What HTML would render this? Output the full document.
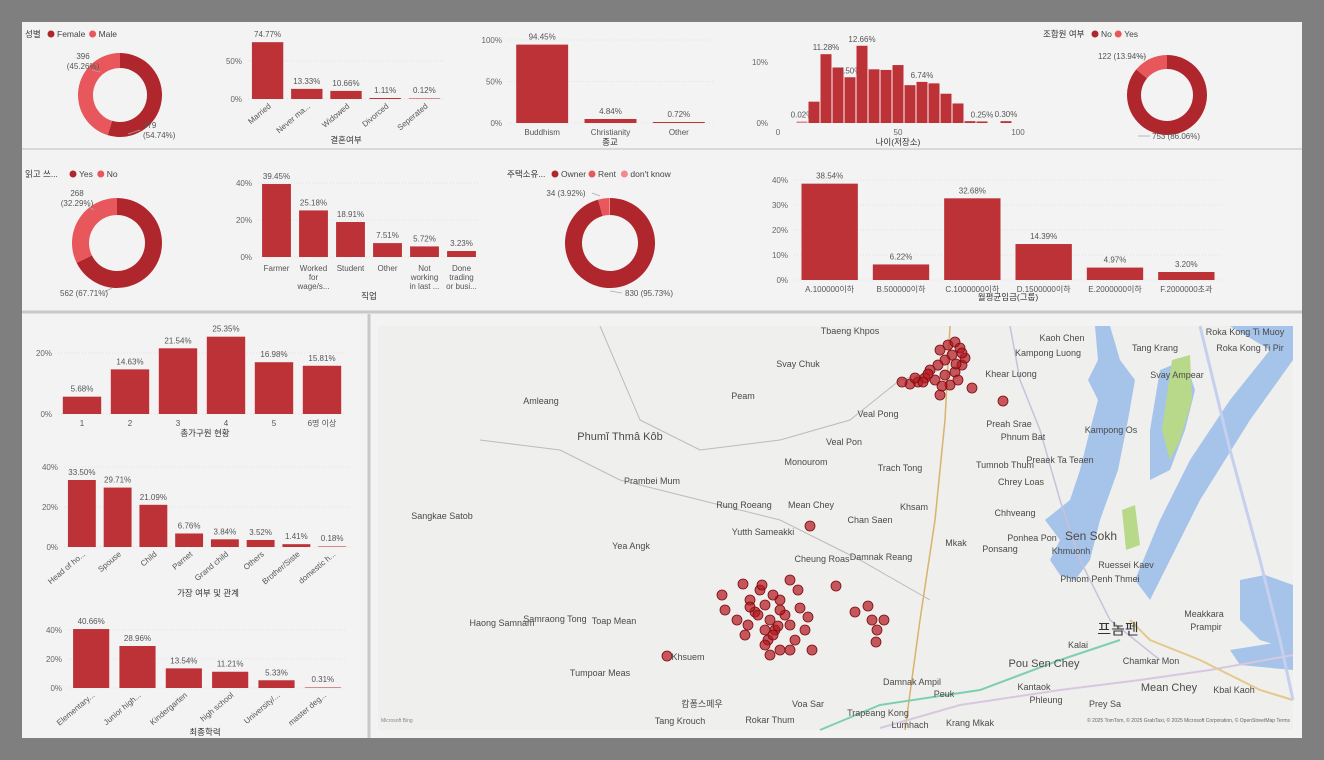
<!DOCTYPE html>
<html><head><meta charset="utf-8">
<style>
html,body{margin:0;padding:0;background:#7f7f7f;}
svg{display:block;font-family:"Liberation Sans","Noto Sans CJK KR",sans-serif;}
</style></head>
<body>
<svg id="dash" width="1324" height="760" viewBox="0 0 1324 760">
<rect x="0" y="0" width="1324" height="760" fill="#7f7f7f"/>
<rect x="22" y="22" width="1280" height="716" fill="#f3f3f3"/>
<line x1="22" y1="149" x2="1302" y2="149" stroke="#d8d8d8" stroke-width="2"/>
<line x1="22" y1="312" x2="1302" y2="312" stroke="#c8c8c8" stroke-width="3"/>
<line x1="369" y1="314" x2="369" y2="738" stroke="#c8c8c8" stroke-width="3"/>
<g id="map"></g>
<g id="charts"></g>
</svg>
<script>
// ---------- DATA ----------
const genderCats=["Female","Male"];
const genderVals=[479,396];
const maritalCats=["Married","Never ma...","Widowed","Divorced","Seperated"];
const maritalVals=[74.77,13.33,10.66,1.11,0.12];
const religionCats=["Buddhism","Christianity","Other"];
const religionVals=[94.45,4.84,0.72];
const ageBins=[10,15,20,25,30,35,40,45,50,55,60,65,70,75,80,85,95];
const ageVals=[0.02,3.5,11.28,9.1,7.5,12.66,8.8,8.7,9.5,6.2,6.74,6.5,4.8,3.2,0.3,0.25,0.30];
const ageShown=["0.02%","","11.28%","","7.50%","12.66%","","","","","6.74%","","","","","0.25%","0.30%"];
const unionCats=["No","Yes"];
const unionVals=[753,122];
const literacyCats=["Yes","No"];
const literacyVals=[562,268];
const jobCats=[["Farmer"],["Worked","for","wage/s..."],["Student"],["Other"],["Not","working","in last ..."],["Done","trading","or busi..."]];
const jobVals=[39.45,25.18,18.91,7.51,5.72,3.23];
const houseCats=["Owner","Rent","don't know"];
const houseVals=[830,34,3];
const incomeCats=["A.100000이하","B.500000이하","C.1000000이하","D.1500000이하","E.2000000이하","F.2000000초과"];
const incomeVals=[38.54,6.22,32.68,14.39,4.97,3.20];
const hhCats=["1","2","3","4","5","6명 이상"];
const hhVals=[5.68,14.63,21.54,25.35,16.98,15.81];
const relCats=["Head of ho...","Spouse","Child","Parnet","Grand child","Others","Brother/Siste","domestic h..."];
const relVals=[33.50,29.71,21.09,6.76,3.84,3.52,1.41,0.18];
const eduCats=["Elementary...","Junior high...","Kindergarten","high school","University/...","master deg..."];
const eduVals=[40.66,28.96,13.54,11.21,5.33,0.31];
// map points: longitude / latitude (projected map units)
const ptLon=[104.562,104.570,104.577,104.582,104.574,104.567,104.560,104.552,104.547,104.540,104.532,104.524,104.557,104.567,104.577,104.584,104.587,104.580,104.562,104.594,104.625,104.550,104.537,104.572,104.584,104.578,104.564,104.545,
104.344,104.347,104.359,104.372,104.377,104.382,104.387,104.392,104.397,104.390,104.402,104.407,104.412,104.417,104.422,104.427,104.434,104.412,104.392,104.387,104.370,104.384,104.395,104.420,104.458,104.477,104.490,104.494,104.499,104.506,104.498,104.289,104.432,104.402,104.387,104.367,104.412,104.430,104.402,104.380,104.395,104.372,104.365,104.400];
const ptLat=[11.976,11.981,11.984,11.978,11.971,11.966,11.961,11.956,11.948,11.944,11.942,11.944,11.946,11.951,11.954,11.961,11.968,11.946,11.931,11.938,11.925,11.952,11.948,11.941,11.973,11.962,11.940,11.944,
11.731,11.716,11.706,11.726,11.714,11.736,11.721,11.706,11.696,11.686,11.726,11.711,11.701,11.686,11.718,11.696,11.676,11.676,11.671,11.696,11.701,11.741,11.731,11.736,11.740,11.714,11.720,11.706,11.696,11.706,11.684,11.670,11.800,11.676,11.681,11.691,11.746,11.709,11.716,11.711,11.691,11.719,11.742,11.700];

// ---------- helpers ----------
const NS="http://www.w3.org/2000/svg";
const charts=document.getElementById('charts');
const mapG=document.getElementById('map');
const RED="#bd3237", DARK="#b0262d", LIGHT="#e8575b";
function mk(tag,attrs,parent){const e=document.createElementNS(NS,tag);for(const k in attrs)e.setAttribute(k,attrs[k]);(parent||charts).appendChild(e);return e;}
function txt(x,y,s,size,parent,anchor,fill,extra){const t=mk('text',Object.assign({x:x,y:y,'font-size':size||9,fill:fill||'#555','text-anchor':anchor||'middle'},extra||{}),parent);t.textContent=s;return t;}

function barChart(o,cats,vals,shown){
  const g=mk('g',{});
  
  
  const ys=v=>o.y0-v/o.vmax*(o.y0-o.ytop);
  o.ticks.forEach(tv=>{
    const gl=mk('line',{x1:o.x0,x2:o.x1,y1:ys(tv),y2:ys(tv),stroke:'#e2e2e2','stroke-dasharray':'1,2'},g);
    
    
    const tl=txt(o.x0-6,ys(tv)+3,tv+'%',8,g,'end','#666');
    
    
  });
  const step=(o.x1-o.x0)/cats.length, bw=step*o.bw;
  cats.forEach((c,i)=>{
    const cx=o.x0+step*(i+0.5), v=vals[i], top=ys(v);
    const h=Math.max(o.y0-top,1);
    const r=mk('rect',{x:cx-bw/2,y:o.y0-h,width:bw,height:h,fill:v<0.5?'#d98a8c':RED},g);
    
    
    const lbl=shown?shown[i]:v.toFixed(2)+'%';
    if(lbl){const vl=txt(cx,o.y0-h-5,lbl,8,g,'middle','#555');
      
      }
    let cl;
    if(o.rot){cl=txt(cx+4,o.y0+8,c,8,g,'end','#555',{transform:'rotate(-40 '+(cx+4)+' '+(o.y0+8)+')'});}
    else if(Array.isArray(c)){cl=mk('text',{x:cx,y:o.y0+14,'font-size':8,fill:'#555','text-anchor':'middle'},g);
      c.forEach((ln,k)=>{const ts=mk('tspan',{x:cx,dy:k?9:0},cl);ts.textContent=ln;});}
    else cl=txt(cx,o.y0+12,c,8,g,'middle','#555');
    
    
  });
  const at=txt(o.tx,o.ty,o.title,8.5,g,'middle','#333');
  
  
}

function donut(o,cats,vals,colors){
  const g=mk('g',{});
  
  
  const tot=vals.reduce((a,b)=>a+b,0);
  let a=-Math.PI/2;
  vals.forEach((v,i)=>{
    const a2=a+v/tot*2*Math.PI, lg=(a2-a)>Math.PI?1:0;
    const R=o.r,r=o.ri,cx=o.cx,cy=o.cy;
    const d=`M${cx+R*Math.cos(a)} ${cy+R*Math.sin(a)} A${R} ${R} 0 ${lg} 1 ${cx+R*Math.cos(a2)} ${cy+R*Math.sin(a2)} L${cx+r*Math.cos(a2)} ${cy+r*Math.sin(a2)} A${r} ${r} 0 ${lg} 0 ${cx+r*Math.cos(a)} ${cy+r*Math.sin(a)}Z`;
    const p=mk('path',{d:d,fill:colors[i]},g);
    
    
    a=a2;
  });
  // legend
  let lx=o.lx;
  const lt=txt(lx,o.ly,o.title,8.5,g,'start','#333');
  
  
  lx+=o.tw;
  cats.forEach((c,i)=>{
    const dot=mk('circle',{cx:lx+4,cy:o.ly-3,r:3.5,fill:colors[i]},g);
    
    
    const le=txt(lx+10,o.ly,c,8.5,g,'start','#444');
    
    
    lx+=14+c.length*4.6;
  });
  o.labels.forEach((L,i)=>{
    const ln=mk('polyline',{points:L.line,fill:'none',stroke:'#aaa','stroke-width':0.8},g);
    
    
    L.text.forEach((s,k)=>{const dl=txt(L.x,L.y+k*10,s,8,g,L.anchor||'middle','#555');
      
      });
  });
}
const pct=(v,t)=>(v/t*100).toFixed(2)+'%';
const sum=a=>a.reduce((x,y)=>x+y,0);

// ---------- charts ----------
donut({name:'gender-donut',cx:120,cy:95,r:42,ri:27,lx:25,ly:37,title:'성별',tw:22,
  labels:[{x:83,y:59,text:[''+genderVals[1],'('+pct(genderVals[1],sum(genderVals))+')'],line:'92,70 100,72'},
          {x:143,y:128,anchor:'start',text:[''+genderVals[0],'('+pct(genderVals[0],sum(genderVals))+')'],line:'128,134 140,130'}]},
  genderCats,genderVals,[DARK,LIGHT]);
barChart({name:'marital-status-chart',x0:248,x1:444,y0:99,ytop:61,vmax:50,ticks:[0,50],bw:0.8,rot:true,tx:346,ty:143,title:'결혼여부'},maritalCats,maritalVals);
barChart({name:'religion-chart',x0:508,x1:713,y0:123,ytop:40,vmax:100,ticks:[0,50,100],bw:0.76,tx:610,ty:145,title:'종교'},religionCats,religionVals);

// age histogram
(function(){
  const g=mk('g',{});
  
  
  const xs=v=>778+v/100*240, ys=v=>123-v/10*61;
  [0,10].forEach(tv=>{const t=txt(768,ys(tv)+3,tv+'%',8,g,'end','#666');
    
    });
  [0,50,100].forEach(tv=>{const t=txt(xs(tv),135,''+tv,8,g,'middle','#666');
    
    });
  ageBins.forEach((b,i)=>{
    const v=ageVals[i],h=Math.max(123-ys(v),1.5);
    const r=mk('rect',{x:xs(b)-5.5,y:123-h,width:11,height:h,fill:v<0.1?'#d98a8c':RED},g);
    
    
    if(ageShown[i]){const t=txt(xs(b),123-h-4,ageShown[i],8,g,'middle','#555');
      
      }
  });
  const t=txt(898,145,'나이(저장소)',8.5,g,'middle','#333');
  
  
})();
donut({name:'union-membership-donut',cx:1167,cy:95,r:40,ri:26,lx:1043,ly:37,title:'조합원 여부',tw:48,
  labels:[{x:1122,y:59,text:[unionVals[1]+' ('+pct(unionVals[1],sum(unionVals))+')'],line:'1138,56 1146,57'},
          {x:1152,y:139,anchor:'start',text:[unionVals[0]+' ('+pct(unionVals[0],sum(unionVals))+')'],line:'1138,136 1150,136'}]},
  unionCats,unionVals,[DARK,LIGHT]);

donut({name:'literacy-donut',cx:117,cy:243,r:45,ri:28,lx:25,ly:177,title:'읽고 쓰...',tw:44,
  labels:[{x:77,y:196,text:[''+literacyVals[1],'('+pct(literacyVals[1],sum(literacyVals))+')'],line:'88,206 94,210'},
          {x:60,y:296,anchor:'start',text:[literacyVals[0]+' ('+pct(literacyVals[0],sum(literacyVals))+')'],line:'104,292 112,288'}]},
  literacyCats,literacyVals,[DARK,LIGHT]);
barChart({name:'occupation-chart',x0:258,x1:480,y0:257,ytop:183,vmax:40,ticks:[0,20,40],bw:0.78,tx:369,ty:299,title:'직업'},jobCats,jobVals);
donut({name:'housing-ownership-donut',cx:610,cy:243,r:45,ri:28,lx:507,ly:177,title:'주택소유...',tw:44,
  labels:[{x:566,y:196,text:[houseVals[1]+' ('+pct(houseVals[1],sum(houseVals))+')'],line:'592,193 600,196'},
          {x:625,y:296,anchor:'start',text:[houseVals[0]+' ('+pct(houseVals[0],sum(houseVals))+')'],line:'610,291 622,293'}]},
  houseCats,houseVals,[DARK,LIGHT,'#f08a8c']);
barChart({name:'monthly-income-chart',x0:794,x1:1222,y0:280,ytop:180,vmax:40,ticks:[0,10,20,30,40],bw:0.79,tx:1008,ty:300,title:'월평균임금(그룹)'},incomeCats,incomeVals);

barChart({name:'household-size-chart',x0:58,x1:346,y0:414,ytop:353,vmax:20,ticks:[0,20],bw:0.8,tx:205,ty:436,title:'총가구원 현황'},hhCats,hhVals);
barChart({name:'household-relationship-chart',x0:64,x1:350,y0:547,ytop:467,vmax:40,ticks:[0,20,40],bw:0.78,rot:true,tx:208,ty:596,title:'가장 여부 및 관계'},relCats,relVals);
barChart({name:'education-chart',x0:68,x1:346,y0:688,ytop:630,vmax:40,ticks:[0,20,40],bw:0.78,rot:true,tx:205,ty:735,title:'최종학력'},eduCats,eduVals);

// ---------- map ----------
(function(){
  const M=mapG;
  const bg=mk('rect',{x:378,y:326,width:915,height:404,fill:'#efefed'},M);
  
  
  const shapes=[
   ['water','#a6c3ea','M1095,326 L1110,326 L1120,360 L1135,380 L1128,420 L1118,470 L1100,520 L1090,560 L1075,580 L1060,575 L1050,560 L1060,540 L1045,520 L1070,500 L1080,470 L1090,430 L1098,400 L1088,380 L1098,360Z'],
   ['water','#a6c3ea','M1230,326 L1293,326 L1293,360 L1250,420 L1200,500 L1170,560 L1150,600 L1135,580 L1160,520 L1190,460 L1230,400 L1270,350Z'],
   ['water','#a6c3ea','M1160,370 L1185,360 L1195,390 L1185,430 L1170,470 L1150,480 L1150,430Z'],
   ['water','#a6c3ea','M1240,580 L1265,575 L1293,585 L1293,650 L1260,640 L1240,620Z'],
   ['water','#a6c3ea','M1230,650 L1293,640 L1293,670 L1240,665Z'],
   ['park','#b9d98a','M1172,360 L1190,355 L1192,400 L1180,440 L1170,460 L1162,430Z'],
   ['park','#b9d98a','M1122,510 L1135,505 L1140,545 L1126,550Z']];
  shapes.forEach(s=>{const p=mk('path',{d:s[2],fill:s[1]},M);
    
    });
  const roads=[
   ['#d9b36b',1.5,'M950,326 L945,420 L935,520 L920,620 L905,730'],
   ['#c9c0da',1.5,'M1010,326 L1020,380 L1040,430 L1060,500 L1080,560 L1110,620 L1160,660'],
   ['#7ecfb0',2,'M820,730 L880,705 L980,690 L1060,660 L1120,640'],
   ['#d8c7df',2,'M880,728 L960,705 L1060,690 L1140,680 L1210,670 L1293,655'],
   ['#bbbbbb',1,'M600,326 L640,420 L700,450 L780,440 L850,420 L900,380 L940,370'],
   ['#bbbbbb',1,'M480,440 L560,450 L620,480 L700,500 L780,520 L860,560 L930,600'],
   ['#e5c88a',2,'M1130,620 L1150,640 L1200,660 L1260,690 L1293,700'],
   ['#c6d0ee',3,'M1200,326 L1230,450 L1260,560 L1280,640 L1293,700']];
  roads.forEach(r=>{const p=mk('path',{d:r[2],fill:'none',stroke:r[0],'stroke-width':r[1]},M);
    
    });
  const places=[['Tbaeng Khpos',850,334],['Svay Chuk',798,367],['Amleang',541,404],['Peam',743,399],['Phumĭ Thmâ Kôb',620,440,11],['Veal Pong',878,417],['Preah Srae',1009,427],['Veal Pon',844,445],['Monourom',806,465],['Trach Tong',900,471],['Tumnob Thum',1005,468],['Prambei Mum',652,484],['Rung Roeang',744,508],['Mean Chey',811,508],['Khsam',914,510],['Sangkae Satob',442,519],['Chan Saen',870,523],['Yutth Sameakki',763,535],['Yea Angk',631,549],['Cheung Roas',822,562],['Damnak Reang',881,560],['Mkak',956,546],['Samraong Tong',555,622],['Toap Mean',614,624],['Haong Samnam',502,626],['Khsuem',688,660],['Tumpoar Meas',600,676],['Damnak Ampil',912,685],['Peuk',944,697],['Voa Sar',808,707],['캄퐁스페우',702,707],['Tang Krouch',680,724],['Rokar Thum',770,723],['Trapeang Kong',878,716],['Lumhach',910,728],['Krang Mkak',970,726],['Kaoh Chen',1062,341],['Kampong Luong',1048,356],['Khear Luong',1011,377],['Phnum Bat',1023,440],['Kampong Os',1111,433],['Preaek Ta Teaen',1060,463],['Chrey Loas',1021,485],['Chhveang',1015,516],['Ponhea Pon',1032,541],['Sen Sokh',1091,540,12],['Khmuonh',1071,554],['Ponsang',1000,552],['Ruessei Kaev',1126,568],['Phnom Penh Thmei',1100,582],['Kalai',1078,648],['Pou Sen Chey',1044,667,11],['Chamkar Mon',1151,664],['Mean Chey',1169,691,11],['Kantaok',1034,690],['Phleung',1046,703],['Prey Sa',1105,707],['Kbal Kaoh',1234,693],['Tang Krang',1155,351],['Svay Ampear',1177,378],['Roka Kong Ti Muoy',1245,335],['Roka Kong Ti Pir',1250,351],['Meakkara',1204,617],['Prampir',1206,630]];
  places.forEach(p=>{const t=txt(p[1],p[2],p[0],p[3]||9,M,'middle','#4a4a4a');
    
    });
  const cap=txt(1118,634,'프놈펜',15,M,'middle','#333');
  
  
  const px=lon=>378+(lon-104.0)*1000, py=lat=>326+(12.0-lat)*1000;
  ptLon.forEach((lon,i)=>{
    const c=mk('circle',{cx:px(lon),cy:py(ptLat[i]),r:5,fill:'#b3151d','fill-opacity':0.7,stroke:'#7a0c10','stroke-width':0.8},M);
    
    
  });
  const br=txt(381,722,'Microsoft Bing',5,M,'start','#888');
  
  
  const cr=txt(1290,722,'© 2025 TomTom, © 2025 GrabTaxi, © 2025 Microsoft Corporation, © OpenStreetMap  Terms',5,M,'end','#666');
  
  
})();
</script>
</body></html>
